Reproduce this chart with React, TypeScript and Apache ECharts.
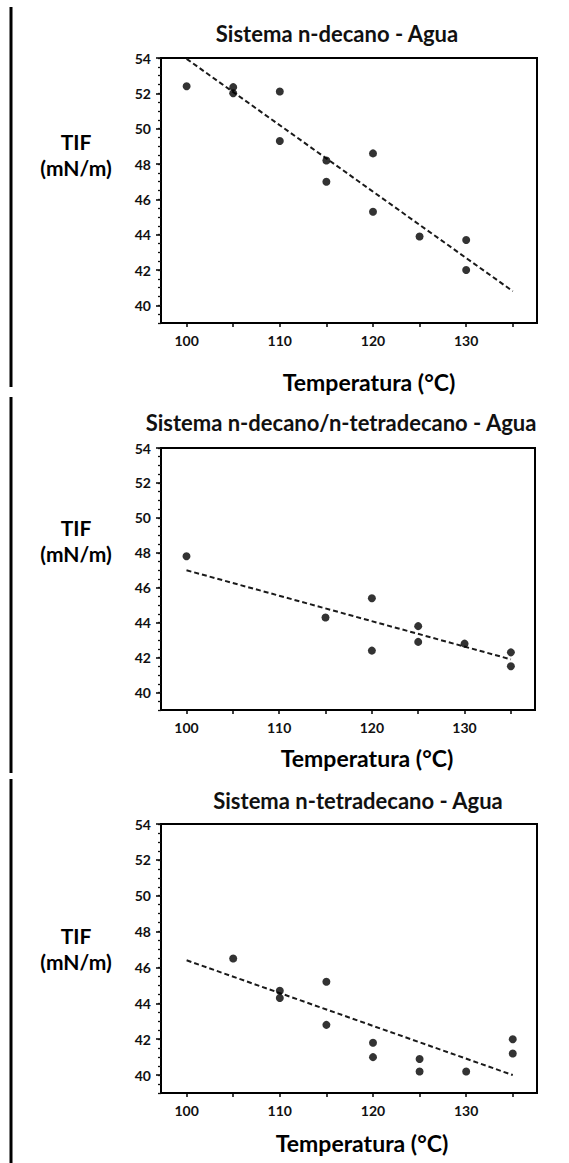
import React, { useEffect, useRef } from "react";
import * as echarts from "echarts";

// Interfacial tension (TIF, mN/m) against temperature (°C) for three systems
const titles = [
  "Sistema n-decano - Agua",
  "Sistema n-decano/n-tetradecano - Agua",
  "Sistema n-tetradecano - Agua",
];

const decanoTemp = [100, 105, 105, 110, 110, 115, 115, 120, 120, 125, 130, 130];
const decanoTif = [52.4, 52.35, 52.0, 52.1, 49.3, 48.2, 47.0, 48.6, 45.3, 43.9, 43.7, 42.0];
const decanoTrend = [[100, 53.95], [135, 40.8]];

const mezclaTemp = [100, 115, 120, 120, 125, 125, 130, 135, 135];
const mezclaTif = [47.8, 44.3, 45.4, 42.4, 43.8, 42.9, 42.8, 42.3, 41.5];
const mezclaTrend = [[100, 47.0], [135, 41.9]];

const tetradecanoTemp = [105, 110, 110, 115, 115, 120, 120, 125, 125, 130, 135, 135];
const tetradecanoTif = [46.5, 44.7, 44.3, 45.2, 42.8, 41.8, 41.0, 40.9, 40.2, 40.2, 42.0, 41.2];
const tetradecanoTrend = [[100, 46.4], [135, 40.0]];

const xLabelValues = [100, 110, 120, 130];
const xTickValues = [100, 105, 110, 115, 120, 125, 130, 135];
const yLabelValues = [40, 42, 44, 46, 48, 50, 52, 54];
const yMinorValues = [
  39, 39.5, 40, 40.5, 41, 41.5, 42, 42.5, 43, 43.5, 44, 44.5, 45, 45.5, 46, 46.5,
  47, 47.5, 48, 48.5, 49, 49.5, 50, 50.5, 51, 51.5, 52, 52.5, 53, 53.5, 54,
];

const xName = "Temperatura (°C)";
const yNameLines = ["TIF", "(mN/m)"];

const FONT = "Lato, 'Open Sans', sans-serif";

// panel placement
const panels = [
  { temp: decanoTemp, tif: decanoTif, trend: decanoTrend, grid: { left: 161, top: 58, width: 376, height: 265 }, titleX: 337, titleY: 33, nameX: 369, nameY: 382, tifY: 141 },
  { temp: mezclaTemp, tif: mezclaTif, trend: mezclaTrend, grid: { left: 161, top: 448, width: 374, height: 262 }, titleX: 341, titleY: 422, nameX: 367, nameY: 758, tifY: 527 },
  { temp: tetradecanoTemp, tif: tetradecanoTif, trend: tetradecanoTrend, grid: { left: 161, top: 824, width: 376, height: 269 }, titleX: 358, titleY: 800, nameX: 362, nameY: 1143, tifY: 935 },
];

export default function App() {
  const ref = useRef<HTMLDivElement>(null);

  useEffect(() => {
    if (!ref.current) return;
    const chart = echarts.init(ref.current, null, { renderer: "svg" });

    const grid: any[] = [];
    const xAxis: any[] = [];
    const yAxis: any[] = [];
    const series: any[] = [];
    const graphic: any[] = [];

    panels.forEach((p, i) => {
      grid.push({
        ...p.grid,
        show: true,
        borderColor: "#000",
        borderWidth: 2,
        backgroundColor: "#fff",
      });
      xAxis.push({
        type: "value",
        gridIndex: i,
        min: 97.25,
        max: 137.6,
        axisLine: { show: true, onZero: false, lineStyle: { color: "#000", width: 2 } },
        axisTick: { show: true, inside: false, length: 4, customValues: xTickValues, lineStyle: { color: "#000", width: 1.5 } },
        axisLabel: { show: true, customValues: xLabelValues, color: "#111", fontFamily: FONT, fontWeight: "bold", fontSize: 14, margin: 10 },
        splitLine: { show: false },
      });
      // labelled y axis with major ticks
      yAxis.push({
        type: "value",
        gridIndex: i,
        min: 39,
        max: 54,
        axisLine: { show: true, onZero: false, lineStyle: { color: "#000", width: 2 } },
        axisTick: { show: true, inside: false, length: 5, customValues: yLabelValues, lineStyle: { color: "#000", width: 1.5 } },
        axisLabel: { show: true, customValues: yLabelValues, color: "#111", fontFamily: FONT, fontWeight: "bold", fontSize: 14, margin: 10 },
        splitLine: { show: false },
      });
      // unlabelled y axis carrying the half-unit ticks
      yAxis.push({
        type: "value",
        gridIndex: i,
        position: "left",
        min: 39,
        max: 54,
        axisLine: { show: false },
        axisTick: { show: true, inside: false, length: 3, customValues: yMinorValues, lineStyle: { color: "#111", width: 1.3 } },
        axisLabel: { show: false },
        splitLine: { show: false },
      });

      series.push({
        type: "line",
        xAxisIndex: i,
        yAxisIndex: i * 2,
        data: p.trend,
        symbol: "none",
        silent: true,
        lineStyle: { color: "#1a1a1a", width: 2, type: [5, 3] },
        z: 2,
      });
      series.push({
        type: "scatter",
        xAxisIndex: i,
        yAxisIndex: i * 2,
        data: p.temp.map((t, k) => [t, p.tif[k]]),
        symbol: "circle",
        symbolSize: 8,
        itemStyle: { color: "#000" },
        z: 3,
      });

      graphic.push({
        type: "text",
        x: p.titleX,
        y: p.titleY,
        style: { text: titles[i], fill: "#111", font: `bold 22px ${FONT}`, textAlign: "center", textVerticalAlign: "middle" },
      });
      graphic.push({
        type: "text",
        x: p.nameX,
        y: p.nameY,
        style: { text: xName, fill: "#000", font: `bold 23px ${FONT}`, textAlign: "center", textVerticalAlign: "middle" },
      });
      yNameLines.forEach((line, k) => {
        graphic.push({
          type: "text",
          x: 76,
          y: p.tifY + k * 26,
          style: { text: line, fill: "#000", font: `bold 21px ${FONT}`, textAlign: "center", textVerticalAlign: "middle" },
        });
      });
    });

    // page border segments down the left side
    [[7, 387], [397, 773], [779, 1163]].forEach(([y1, y2]) => {
      graphic.push({
        type: "line",
        shape: { x1: 11, y1, x2: 11, y2 },
        style: { stroke: "#000", lineWidth: 3 },
      });
    });

    chart.setOption({
      animation: false,
      backgroundColor: "#fff",
      grid,
      xAxis,
      yAxis,
      series,
      graphic,
    });

    return () => chart.dispose();
  }, []);

  return (
    <div
      ref={ref}
      style={{ position: "fixed", left: 0, top: 0, width: 569, height: 1163, background: "#fff" }}
    />
  );
}
